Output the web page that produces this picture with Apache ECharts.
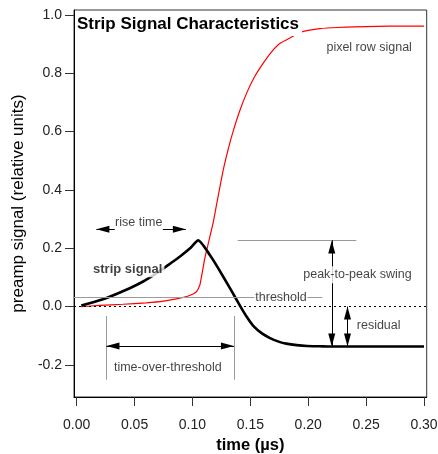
<!DOCTYPE html>
<html>
<head>
<meta charset="utf-8">
<script src="https://cdn.jsdelivr.net/npm/echarts@6/dist/echarts.min.js"></script>
<style>
html,body{margin:0;padding:0;background:#fff;}
#chart{width:438px;height:454px;}
</style>
</head>
<body>
<div id="chart"></div>
<script>
// ---- data ----
const xTicks = [0, 0.05, 0.10, 0.15, 0.20, 0.25, 0.30];
const yTicks = [-0.2, 0.0, 0.2, 0.4, 0.6, 0.8, 1.0];

const stripTime   = [0.004,0.015,0.0285,0.0458,0.0574,0.0665,0.0747,0.082,0.089,0.0977,0.105,0.115,0.1222,0.133,0.1415,0.147,0.1525,0.16,0.167,0.175,0.181,0.19,0.199,0.21,0.219,0.24,0.27,0.30];
const stripSignal = [0.004,0.016,0.034,0.063,0.086,0.108,0.130,0.151,0.171,0.199,0.227,0.177,0.132,0.059,0.0,-0.036,-0.066,-0.092,-0.108,-0.121,-0.127,-0.132,-0.135,-0.136,-0.137,-0.137,-0.137,-0.137];

const pixelTime   = [0.004,0.02,0.04,0.06,0.075,0.089,0.097,0.1035,0.1064,0.1107,0.118,0.1225,0.1266,0.131,0.1355,0.141,0.1468,0.1535,0.161,0.168,0.1756,0.186,0.193,0.2,0.21,0.225,0.24,0.26,0.28,0.30];
const pixelSignal = [0.0,0.004,0.008,0.013,0.019,0.029,0.037,0.051,0.074,0.166,0.29,0.385,0.469,0.542,0.606,0.673,0.732,0.787,0.834,0.872,0.903,0.925,0.94,0.947,0.953,0.957,0.959,0.961,0.962,0.962];

// annotation values (data coordinates)
const thresholdLevel = 0.032;
const peakLevel = 0.227;
const residualLevel = -0.137;
const totStart = 0.0257, totEnd = 0.1358;

const FONT = '"Liberation Sans", Arial, Helvetica, sans-serif';
const X_MIN = -0.0023, X_MAX = 0.3023;

function pairs(xs, ys){ return xs.map((x,i)=>[x, ys[i]]); }
function seg(a, b){ return [{coord:a}, {coord:b}]; }

const grey = {color:'#9a9a9a', width:1, type:'solid'};
const tri = {symbol:'triangle', symbolSize:[7,13], symbolOffset:[0,'50%']};

const greyLines = [
  seg([X_MIN, thresholdLevel], [0.212, thresholdLevel]),
  seg([0.139, peakLevel], [0.2415, peakLevel]),
  seg([totStart, -0.032], [totStart, -0.251]),
  seg([totEnd, -0.032], [totEnd, -0.251])
];

function arrow(a, b, startSym, endSym){
  return [
    Object.assign({coord:a}, startSym ? tri : {symbol:'none'}),
    Object.assign({coord:b}, endSym ? tri : {symbol:'none'})
  ];
}
const arrows = [
  arrow([0.2203, peakLevel], [0.2203, residualLevel], true, true),
  arrow([0.2339, 0.0], [0.2339, residualLevel], true, true),
  arrow([totStart, -0.135], [totEnd, -0.135], true, true),
  arrow([0.0329, 0.265], [0.017, 0.265], false, true),
  arrow([0.0744, 0.265], [0.0943, 0.265], false, true)
];

const notes = [
  {name:'rise time', value:[0.0536, 0.287], label:{}},
  {name:'strip signal', value:[0.0441, 0.126], label:{fontWeight:'bold', fontSize:13, backgroundColor:'#fff', padding:[1,2]}},
  {name:'threshold', value:[0.1765, 0.030], label:{backgroundColor:'#fff', padding:[0,1]}},
  {name:'peak-to-peak swing', value:[0.2425, 0.109], label:{backgroundColor:'#fff', padding:[2,1]}},
  {name:'residual', value:[0.2419, -0.066], label:{align:'left'}},
  {name:'time-over-threshold', value:[0.0787, -0.208], label:{}},
  {name:'pixel row signal', value:[0.2526, 0.889], label:{}}
];

const chart = echarts.init(document.getElementById('chart'), null, {renderer:'canvas'});
chart.setOption({
  animation:false,
  backgroundColor:'#fff',
  textStyle:{fontFamily:FONT},
  title:{
    text:'Strip Signal Characteristics',
    left:75, top:16, padding:[0,3,3,2],
    backgroundColor:'#fff',
    textStyle:{fontFamily:FONT, fontSize:17, fontWeight:'bold', color:'#000'}
  },
  grid:{left:74, right:11.3, top:10, bottom:57, show:true, borderColor:'#333', borderWidth:1,
        backgroundColor:'transparent', containLabel:false, outerBoundsMode:'none'},
  xAxis:{
    type:'value', min:X_MIN, max:X_MAX,
    name:'time (µs)', nameLocation:'middle', nameGap:35,
    nameTextStyle:{fontFamily:FONT, fontSize:16.5, fontWeight:'bold', color:'#000'},
    axisLine:{show:true, onZero:false, lineStyle:{color:'#000', width:1}},
    axisTick:{show:true, customValues:xTicks, length:9, lineStyle:{color:'#333'}},
    axisLabel:{customValues:xTicks, formatter:v=>v.toFixed(2), fontSize:14, color:'#222', margin:21, fontFamily:FONT},
    splitLine:{show:false}
  },
  yAxis:{
    type:'value', min:-0.31, max:1.017,
    name:'preamp signal (relative units)', nameLocation:'middle', nameGap:46,
    nameTextStyle:{fontFamily:FONT, fontSize:17, color:'#000'},
    axisLine:{show:true, onZero:false, lineStyle:{color:'#000', width:1}},
    axisTick:{show:true, customValues:yTicks, length:9, lineStyle:{color:'#333'}},
    axisLabel:{customValues:yTicks, formatter:v=>v.toFixed(1), fontSize:14, color:'#222', margin:12, fontFamily:FONT},
    splitLine:{show:false}
  },
  series:[
    {
      type:'line', data:[], clip:false, silent:true, z:1,
      markLine:{silent:true, symbol:'none', label:{show:false}, animation:false,
        lineStyle:grey, data:greyLines}
    },
    {
      type:'line', data:[], clip:false, silent:true, z:1,
      markLine:{silent:true, symbol:'none', label:{show:false}, animation:false,
        lineStyle:{color:'#000', width:1, type:[2,3]},
        data:[seg([X_MIN,0],[X_MAX,0])]}
    },
    {
      type:'line', name:'pixel', data:pairs(pixelTime,pixelSignal), showSymbol:false, z:3, smooth:0.15,
      lineStyle:{color:'#ff0000', width:1.2}, itemStyle:{color:'#ff0000'}
    },
    {
      type:'line', name:'strip', data:pairs(stripTime,stripSignal), showSymbol:false, z:4, smooth:0.2,
      lineStyle:{color:'#000', width:2.6, join:'miter'}, itemStyle:{color:'#000'}
    },
    {
      type:'line', data:[], clip:false, silent:true, z:5,
      markLine:{silent:true, label:{show:false}, animation:false,
        lineStyle:{color:'#000', width:1, type:'solid'}, itemStyle:{color:'#000'},
        data:arrows}
    },
    {
      type:'scatter', data:notes, symbolSize:0, z:10, silent:true,
      label:{show:true, position:'inside', formatter:p=>p.name, fontFamily:FONT, fontSize:12.5, color:'#111'}
    }
  ]
});
</script>
</body>
</html>
